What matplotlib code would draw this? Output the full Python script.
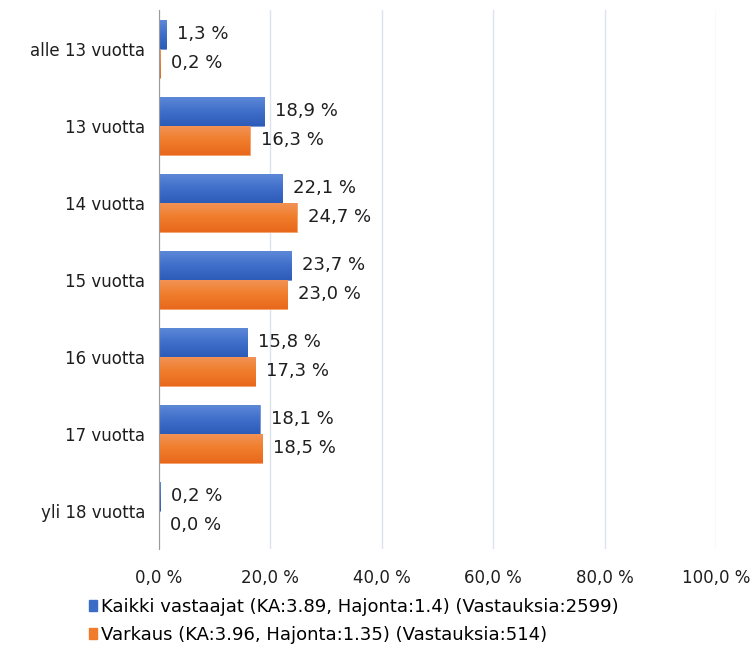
import numpy as np
import matplotlib.pyplot as plt
from matplotlib.patches import Patch
from matplotlib.colors import LinearSegmentedColormap

# age groups and the two series (percent)
categories = ['alle 13 vuotta', '13 vuotta', '14 vuotta', '15 vuotta',
              '16 vuotta', '17 vuotta', 'yli 18 vuotta']
kaikki = [1.3, 18.9, 22.1, 23.7, 15.8, 18.1, 0.2]
varkaus = [0.2, 16.3, 24.7, 23.0, 17.3, 18.5, 0.0]
series_names = ['Kaikki vastaajat (KA:3.89, Hajonta:1.4) (Vastauksia:2599)',
                'Varkaus (KA:3.96, Hajonta:1.35) (Vastauksia:514)']
xticks = [0, 20, 40, 60, 80, 100]

plt.rcParams['font.family'] = ['DejaVu Sans']

blue = '#3b6cc6'
orange = '#ef7b2b'
# light at top -> dark at bottom
blue_grad = LinearSegmentedColormap.from_list('b', ['#5f8ad8', '#3f6fca', '#2d5cb8'])
orange_grad = LinearSegmentedColormap.from_list('o', ['#f29457', '#f07d2c', '#e8681c'])

fig = plt.figure(figsize=(7.56, 6.51), dpi=100)
ax = fig.add_axes([0.2103, 0.156, 0.737, 0.828])

y = np.arange(len(categories))
h = 0.377
bars_b = ax.barh(y - h / 2, kaikki, height=h, color=blue, edgecolor='#6f95dc', linewidth=0.6, zorder=3)
bars_o = ax.barh(y + h / 2, varkaus, height=h, color=orange, edgecolor='#f4a06a', linewidth=0.6, zorder=3)

# vertical gradient fill inside each bar
grad = np.linspace(0, 1, 64).reshape(-1, 1)
for bars, cmap in [(bars_b, blue_grad), (bars_o, orange_grad)]:
    for p in bars:
        x0, y0 = p.get_x(), p.get_y()
        w, hh = p.get_width(), p.get_height()
        if w <= 0:
            continue
        # y axis is inverted, so y0 is the visual top of the bar
        im = ax.imshow(grad, cmap=cmap, aspect='auto', origin='upper',
                       extent=(x0, x0 + w, y0 + hh, y0), zorder=3.5)
        im.set_clip_path(p)

# value labels, finnish decimal comma
for yi, v in zip(y, kaikki):
    ax.annotate(f'{v:.1f} %'.replace('.', ','), (v, yi - h / 2), xytext=(11, 0),
                textcoords='offset pixels', va='center', ha='left', fontsize=13, color='#1e1e1e')
for yi, v in zip(y, varkaus):
    ax.annotate(f'{v:.1f} %'.replace('.', ','), (v, yi + h / 2), xytext=(11, 0),
                textcoords='offset pixels', va='center', ha='left', fontsize=13, color='#1e1e1e')

ax.set_xlim(0, 100)
ax.set_ylim(len(categories) - 0.5, -0.5)
ax.set_yticks(y)
ax.set_yticklabels(categories, fontsize=12, color='#1e1e1e')
ax.set_xticks(xticks)
ax.set_xticklabels([f'{t:.1f} %'.replace('.', ',') for t in xticks], fontsize=12, color='#1e1e1e')
ax.tick_params(length=0, pad=10)
ax.tick_params(axis='x', pad=14)
ax.grid(axis='x', color='#dde4ef', linewidth=1, zorder=0)
for s in ['top', 'right', 'bottom']:
    ax.spines[s].set_visible(False)
ax.spines['left'].set_color('#9a9a9a')
ax.spines['left'].set_zorder(4)

handles = [Patch(color=blue), Patch(color=orange)]
fig.legend(handles, series_names, loc='upper left', bbox_to_anchor=(0.108, 0.093),
           frameon=False, fontsize=13, handlelength=0.45, handleheight=0.6,
           handletextpad=0.2, labelspacing=0.55, borderaxespad=0)

fig.savefig('out.png', dpi=100)
